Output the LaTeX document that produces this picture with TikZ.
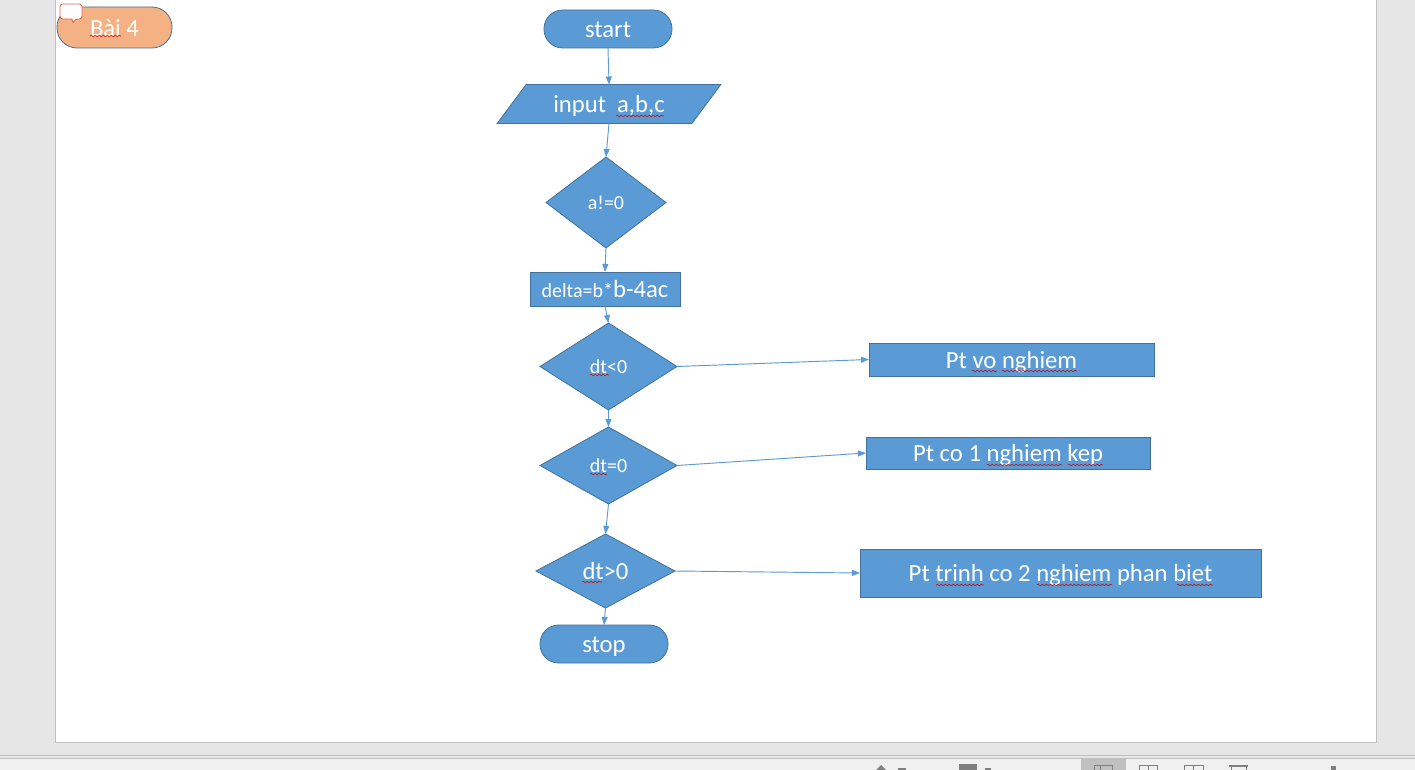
\documentclass[tikz,border=0pt]{standalone}
\usepackage{fontspec}
\setmainfont{Carlito}
\usetikzlibrary{arrows.meta,shapes.geometric,decorations.pathmorphing}
\definecolor{shapeblue}{HTML}{5B9BD5}
\definecolor{edgeblue}{HTML}{41719C}
\definecolor{tagorange}{HTML}{F4B183}
\definecolor{noteorange}{HTML}{E8623F}
\definecolor{panelgray}{HTML}{E6E6E6}
\definecolor{framegray}{HTML}{C0C0C0}
\definecolor{bargray}{HTML}{F0F0F0}
\definecolor{icongray}{HTML}{7F7F7F}
\newcommand{\smalltext}{\fontsize{15}{17}\selectfont}
\tikzset{
  >={Triangle[length=6pt,width=4.5pt]},
  boxsize/.style 2 args={minimum width=#1*0.75pt,minimum height=#2*0.75pt,inner sep=0pt,outer sep=0pt},
  shapestyle/.style={draw=edgeblue,fill=shapeblue,line width=0.6pt,text=white,text height=13pt,text depth=0pt,font=\fontsize{18.5}{20}\selectfont},
  termbox/.style={shapestyle,rectangle,rounded corners=14pt},
  procbox/.style={shapestyle,rectangle},
  decbox/.style={shapestyle,diamond,aspect=1.5},
  smalldec/.style={decbox,text height=11pt,font=\smalltext},
  link/.style={->,draw=shapeblue,line width=0.7pt},
  squig/.style={draw=red!80!black,line width=0.4pt,decorate,decoration={snake,amplitude=0.6pt,segment length=3pt}},
}
\begin{document}
\begin{tikzpicture}[x=0.75pt,y=-0.75pt]
\useasboundingbox (0,0) rectangle (1415,770);
% window
\fill[panelgray] (0,0) rectangle (1415,770);
\draw[framegray,fill=white,line width=0.75pt] (55.5,-5) rectangle (1376,742);
\draw[framegray,line width=0.75pt] (0,755) -- (1415,755);
\draw[framegray,fill=bargray,line width=0.75pt] (-5,758.5) rectangle (1420,775);
% status bar
\fill[framegray] (1081,759) rectangle (1126,770);
\fill[icongray] (959,764) rectangle (977,770);
\fill[icongray] (876,770) -- (881,765) -- (886,770) -- cycle;
\fill[icongray] (898,768) rectangle (906,770);
\fill[icongray] (985,768) rectangle (991,770);
\draw[icongray,line width=0.6pt] (1094,770) -- (1094,765) -- (1112,765) -- (1112,770) (1100,765) -- (1100,770);
\draw[icongray,line width=0.6pt] (1139,770) -- (1139,765) -- (1157,765) -- (1157,770) (1148,765) -- (1148,770);
\draw[icongray,line width=0.6pt] (1184,770) -- (1184,765) -- (1203,765) -- (1203,770) (1193,765) -- (1193,770);
\fill[icongray] (1229,765) rectangle (1248,767);
\draw[icongray,line width=0.6pt] (1231,767) -- (1231,770) (1246,767) -- (1246,770);
\fill[icongray] (1331,766) rectangle (1336,770);
% flow
\node[termbox,boxsize={128}{38}] (start) at (608,29) {start};
\node[shapestyle,trapezium,trapezium left angle=41.6,trapezium right angle=138.4,trapezium stretches=true,boxsize={224}{39}] (input) at (609,104) {input\ \ a,b,c};
\node[smalldec,boxsize={120}{91}] (neq) at (606,202.5) {a!=0};
\node[procbox,boxsize={150}{34}] (delta) at (605,289) {{\smalltext delta=b*}b-4ac};
\node[smalldec,boxsize={137}{87}] (neg) at (608.5,366.5) {dt<0};
\node[smalldec,boxsize={137}{77}] (zero) at (608.5,465.5) {dt=0};
\node[decbox,boxsize={139}{74}] (pos) at (605.5,571) {dt>0};
\node[termbox,boxsize={128}{38}] (stop) at (604,644) {stop};
\node[procbox,boxsize={285}{33}] (none) at (1011.5,359.5) {Pt vo nghiem};
\node[procbox,boxsize={284}{32}] (one) at (1008,453) {Pt co 1 nghiem kep};
\node[procbox,boxsize={401}{48}] (two) at (1060.5,573) {Pt trinh co 2 nghiem phan biet};
\node[termbox,boxsize={115}{41},rounded corners=15pt,fill=tagorange] (tag) at (114.5,27.5) {Bài 4};
% links
\draw[link] (start.south) -- (input.north);
\draw[link] (input.south) -- (neq.north);
\draw[link] (neq.south) -- (delta.north);
\draw[link] (delta.south) -- (neg.north);
\draw[link] (neg.south) -- (zero.north);
\draw[link] (zero.south) -- (pos.north);
\draw[link] (pos.south) -- (stop.north);
\draw[link] (neg.east) -- (none.west);
\draw[link] (zero.east) -- (one.west);
\draw[link] (pos.east) -- (two.west);
% comment mark
\draw[noteorange,fill=white,line width=0.6pt,rounded corners=2pt] (60,4) -- (82,4) -- (82,19) -- (75,19) -- (73,24) [sharp corners] -- (72,19) [rounded corners=2pt] -- (60,19) -- cycle;
% spelling marks
\foreach \xa/\xb/\ya in {90/121/36,616/664/116,590/609/375,590/607/474,972/997/371,1002/1077/371,987/1062/465,1068/1103/465,936/984/585,1037/1112/585,1177/1213/585,582/602/582}
  \draw[squig] (\xa,\ya) -- (\xb,\ya);
\end{tikzpicture}
\end{document}
